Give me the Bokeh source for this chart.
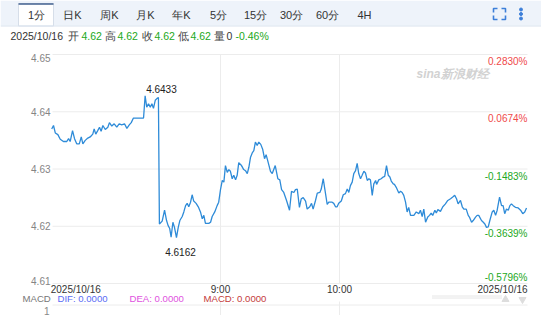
from bokeh.plotting import figure
from bokeh.models import Range1d, ColumnDataSource
from bokeh.core.properties import value
from bokeh.embed import file_html
from bokeh.resources import INLINE

# ---------------- data (minutes after midnight, price) ----------------
t_min = [
    454.9, 455.8, 456.7, 458.0, 459.2, 460.8, 462.5, 463.4, 464.2, 465.4,
    466.4, 467.5, 468.8, 469.8, 470.6, 471.8, 473.1, 474.3, 475.6, 476.3,
    477.1, 478.1, 479.0, 479.8, 480.7, 481.9, 483.2, 484.0, 485.2, 486.4,
    487.7, 488.9, 490.2, 491.6, 492.8, 494.0, 495.0, 496.1, 501.2, 502.0,
    502.8, 503.7, 504.6, 505.4, 506.2, 507.1, 507.9, 508.7, 509.2, 510.6,
    511.8, 512.8, 513.6, 514.4, 515.1, 516.0, 516.8, 517.8, 518.7, 519.5,
    520.7, 521.5, 522.4, 523.2, 524.0, 524.9, 525.7, 526.5, 527.7, 528.8,
    529.9, 530.8, 531.6, 532.4, 534.1, 535.0, 535.8, 537.1, 538.3, 539.1,
    540.0, 540.9, 541.7, 542.5, 543.4, 544.2, 545.0, 545.9, 546.7, 547.6,
    548.4, 549.2, 550.6, 551.7, 552.6, 553.5, 554.3, 555.1, 556.0, 556.8,
    557.6, 558.5, 559.3, 560.3, 561.3, 562.2, 563.0, 564.0, 565.2, 566.1,
    567.6, 568.9, 569.9, 570.8, 571.9, 573.3, 574.8, 575.8, 577.0, 577.8,
    578.7, 579.8, 580.7, 581.7, 582.9, 583.7, 585.0, 585.9, 586.7, 587.9,
    588.8, 590.1, 590.8, 591.8, 592.6, 593.8, 594.6, 596.3, 597.1, 598.0,
    598.8, 599.6, 600.9, 601.9, 603.0, 603.9, 604.7, 605.5, 606.4, 607.2,
    608.1, 608.9, 609.7, 610.6, 611.4, 612.3, 613.1, 614.0, 614.8, 615.6,
    616.5, 617.3, 618.2, 618.7, 619.8, 621.0, 622.0, 622.8, 623.7, 624.6,
    625.4, 626.1, 627.1, 627.7, 628.6, 629.9, 630.8, 631.6, 632.4, 633.3,
    634.1, 634.9, 635.8, 637.5, 638.7, 640.0, 640.8, 641.7, 642.5, 643.4,
    644.5, 645.4, 646.2, 647.0, 648.1, 648.8, 649.6, 650.9, 652.1, 653.4,
    654.6, 656.0, 657.1, 658.1, 659.0, 659.8, 661.0, 661.9, 662.7, 663.9,
    664.9, 665.5, 666.6, 667.4, 668.6, 669.4, 670.2, 671.6, 672.5, 673.3,
    674.1, 675.0, 675.8, 677.0, 677.8, 678.7, 679.5, 680.7, 681.7, 682.5,
    683.3, 684.2, 685.1, 685.9, 686.7, 687.6, 688.7, 690.1, 691.3, 692.4,
    693.4, 694.3,
]
price = [
    4.6370, 4.6376, 4.6363, 4.6360, 4.6352, 4.6348, 4.6348, 4.6353, 4.6348, 4.6367,
    4.6353, 4.6344, 4.6344, 4.6356, 4.6344, 4.6350, 4.6354, 4.6356, 4.6361, 4.6370,
    4.6361, 4.6367, 4.6373, 4.6366, 4.6376, 4.6369, 4.6373, 4.6381, 4.6375, 4.6379,
    4.6373, 4.6379, 4.6377, 4.6379, 4.6371, 4.6377, 4.6381, 4.6389, 4.6389, 4.6428,
    4.6408, 4.6414, 4.6408, 4.6414, 4.6406, 4.6420, 4.6423, 4.6425, 4.6204, 4.6209,
    4.6228, 4.6210, 4.6201, 4.6196, 4.6181, 4.6207, 4.6198, 4.6180, 4.6198, 4.6210,
    4.6217, 4.6225, 4.6236, 4.6240, 4.6234, 4.6242, 4.6255, 4.6244, 4.6240, 4.6234,
    4.6225, 4.6213, 4.6219, 4.6205, 4.6205, 4.6207, 4.6217, 4.6225, 4.6236, 4.6242,
    4.6264, 4.6280, 4.6277, 4.6306, 4.6294, 4.6299, 4.6296, 4.6283, 4.6289, 4.6281,
    4.6289, 4.6311, 4.6306, 4.6299, 4.6297, 4.6292, 4.6303, 4.6320, 4.6328, 4.6332,
    4.6347, 4.6341, 4.6347, 4.6343, 4.6334, 4.6318, 4.6325, 4.6312, 4.6296, 4.6292,
    4.6306, 4.6283, 4.6281, 4.6264, 4.6259, 4.6245, 4.6228, 4.6261, 4.6259, 4.6264,
    4.6265, 4.6233, 4.6248, 4.6250, 4.6244, 4.6230, 4.6234, 4.6240, 4.6230, 4.6245,
    4.6258, 4.6259, 4.6265, 4.6283, 4.6265, 4.6238, 4.6242, 4.6242, 4.6240, 4.6234,
    4.6234, 4.6240, 4.6244, 4.6255, 4.6257, 4.6265, 4.6259, 4.6271, 4.6277, 4.6292,
    4.6297, 4.6310, 4.6292, 4.6283, 4.6289, 4.6296, 4.6293, 4.6280, 4.6283, 4.6281,
    4.6254, 4.6274, 4.6280, 4.6273, 4.6281, 4.6283, 4.6286, 4.6287, 4.6306, 4.6289,
    4.6286, 4.6279, 4.6274, 4.6273, 4.6268, 4.6258, 4.6261, 4.6259, 4.6254, 4.6242,
    4.6225, 4.6233, 4.6219, 4.6219, 4.6225, 4.6222, 4.6228, 4.6217, 4.6230, 4.6207,
    4.6216, 4.6219, 4.6223, 4.6219, 4.6228, 4.6223, 4.6229, 4.6226, 4.6234, 4.6239,
    4.6245, 4.6248, 4.6251, 4.6254, 4.6248, 4.6239, 4.6245, 4.6234, 4.6230, 4.6230,
    4.6219, 4.6216, 4.6207, 4.6210, 4.6216, 4.6219, 4.6219, 4.6210, 4.6207, 4.6204,
    4.6198, 4.6199, 4.6210, 4.6225, 4.6228, 4.6219, 4.6228, 4.6251, 4.6236, 4.6236,
    4.6222, 4.6230, 4.6228, 4.6236, 4.6239, 4.6236, 4.6233, 4.6232, 4.6228, 4.6222,
    4.6225, 4.6232,
]

price_ticks = [4.61, 4.62, 4.63, 4.64, 4.65]
prev_close = 4.6368756
time_ticks = [540, 600]
time_labels = ["9:00", "10:00"]
date_label = "2025/10/16"
hi_value = 4.6433
lo_value = 4.6162

tabs = ["1分", "日K", "周K", "月K", "年K", "5分", "15分", "30分", "60分", "4H"]
quote_names = ["开", "高", "收", "低", "量"]
quote_values = ["4.62", "4.62", "4.62", "4.62", "0"]
quote_change = "-0.46%"
macd_title = "MACD"
macd_labels = ["DIF: 0.0000", "DEA: 0.0000", "MACD: 0.0000"]
macd_axis_label = "1"

# ---------------- layout (pixels) ----------------
W, H = 541, 315
PLOT_L, PLOT_R, PLOT_T, PLOT_B = 52, 527, 54, 283
X_FIRST_TICK, X_SECOND_TICK = 220, 339
px_per_min = (X_SECOND_TICK - X_FIRST_TICK) / (time_ticks[1] - time_ticks[0])
x_start = time_ticks[0] - X_FIRST_TICK / px_per_min
x_end = x_start + W / px_per_min
px_per_price = (PLOT_B - PLOT_T) / (price_ticks[-1] - price_ticks[0])
y_top = price_ticks[-1] + PLOT_T / px_per_price
y_bottom = y_top - H / px_per_price

FONT = "Liberation Sans"
GRID = "#ececec"
LINE = "#2e8bd8"
RED = "#f04a4a"
GREEN = "#22a822"

p = figure(width=W, height=H, x_range=Range1d(x_start, x_end),
           y_range=Range1d(y_bottom, y_top), output_backend="svg",
           toolbar_location=None, min_border=0, x_axis_location=None,
           y_axis_location=None, outline_line_color=None,
           background_fill_color="white", border_fill_color="white")
p.grid.visible = False
p.extra_x_ranges = {"px": Range1d(0, W)}
p.extra_y_ranges = {"py": Range1d(H, 0)}


def txt(xs, ys, texts, colors, size="10px", align="left", baseline="middle",
        xr="px", yr="py", font=FONT, style="normal", x_off=0, y_off=0):
    src = ColumnDataSource(dict(x=xs, y=ys, t=texts, c=colors))
    kw = {}
    if xr != "default":
        kw["x_range_name"] = xr
    if yr != "default":
        kw["y_range_name"] = yr
    p.text(x="x", y="y", text="t", text_color="c", source=src,
           text_font=value(font), text_font_size=value(size),
           text_font_style=style, text_align=align, text_baseline=baseline,
           x_offset=x_off, y_offset=y_off, **kw)


# ---------------- top tab band ----------------
p.quad(left=[0], right=[W], top=[0], bottom=[25], fill_color="#eef3fa",
       line_color=None, x_range_name="px", y_range_name="py")
p.quad(left=[18], right=[53], top=[3], bottom=[25.5], fill_color="white",
       line_color="#d6dee9", line_width=1, x_range_name="px", y_range_name="py")
p.segment(x0=[0], x1=[W], y0=[25.5], y1=[25.5], line_color="#d9e2ee",
          x_range_name="px", y_range_name="py")
p.segment(x0=[18], x1=[53], y0=[3.5], y1=[3.5], line_color="#42618f",
          line_width=1.5, x_range_name="px", y_range_name="py")
tab_x = [36, 72, 109, 145, 181, 218, 255, 291, 327, 364]
txt(tab_x, [14] * len(tabs), tabs, ["#333333"] * len(tabs), size="11px",
    align="center")
# fullscreen icon
ic = "#3d7fd9"
p.multi_line(xs=[[493, 493, 497], [501, 505, 505], [493, 493, 497], [501, 505, 505]],
             ys=[[12, 8, 8], [8, 8, 12], [15, 19, 19], [19, 19, 15]],
             line_color=ic, line_width=1.6, x_range_name="px", y_range_name="py")
p.scatter(x=[520.5, 520.5, 520.5], y=[9, 13.5, 18], size=3, color=ic,
          x_range_name="px", y_range_name="py")

# ---------------- quote line ----------------
q_txt = [date_label]
q_x = [10]
q_col = ["#333333"]
name_x = [67, 104, 141, 177, 213]
val_x = [81, 117, 154, 190, 226]
for i, (n, v) in enumerate(zip(quote_names, quote_values)):
    q_txt += [n, v]
    q_x += [name_x[i], val_x[i]]
    q_col += ["#444444", GREEN if i < 4 else "#333333"]
q_txt.append(quote_change)
q_x.append(235)
q_col.append(GREEN)
txt(q_x, [35] * len(q_txt), q_txt, q_col, size="10.5px")

# ---------------- watermark ----------------
txt([452], [73], ["sina新浪财经"], ["#d2d2d2"], size="12px", align="center",
    style="bold italic")

# ---------------- grid ----------------
p.segment(x0=[PLOT_L] * len(price_ticks), x1=[PLOT_R] * len(price_ticks),
          y0=price_ticks, y1=price_ticks, line_color=GRID, x_range_name="px")
p.segment(x0=time_ticks, x1=time_ticks, y0=[PLOT_T] * 2, y1=[PLOT_B] * 2,
          line_color=GRID, y_range_name="py")
p.segment(x0=time_ticks, x1=time_ticks, y0=[301] * 2, y1=[H] * 2,
          line_color=GRID, y_range_name="py")
p.segment(x0=[PLOT_L], x1=[PLOT_R], y0=[304.5], y1=[304.5], line_color=GRID,
          x_range_name="px", y_range_name="py")

# ---------------- price line ----------------
p.line(t_min, price, line_color=LINE, line_width=1.3)

# high / low markers
i_hi = max(range(len(price)), key=lambda i: price[i])
i_lo = min(range(len(price)), key=lambda i: price[i])
txt([t_min[i_hi]], [hi_value], [f"{hi_value:.4f}"], ["#222222"], size="10px",
    align="left", baseline="bottom", xr="default", yr="default", x_off=1)
txt([t_min[i_lo]], [lo_value], [f"{lo_value:.4f}"], ["#222222"], size="10px",
    align="center", baseline="top", xr="default", yr="default", x_off=4)

# ---------------- left price labels ----------------
LG = "#858585"
txt([50], [price_ticks[-1]], [f"{price_ticks[-1]:.2f}"], [LG], align="right",
    baseline="top", yr="default", y_off=-1)
mid = price_ticks[1:-1]
txt([50] * len(mid), mid, [f"{v:.2f}" for v in mid], [LG] * len(mid),
    align="right", baseline="middle", yr="default")
txt([50], [price_ticks[0]], [f"{price_ticks[0]:.2f}"], [LG], align="right",
    baseline="bottom", yr="default", y_off=1)

# ---------------- right percent labels ----------------
pct = [(v / prev_close - 1) * 100 for v in price_ticks]
pct_txt = [f"{v:.4f}%" for v in pct]
pct_col = [RED if v > 0 else GREEN for v in pct]
txt([PLOT_R] * 4, price_ticks[1:], pct_txt[1:], pct_col[1:], align="right",
    baseline="top", yr="default", y_off=1.5)
txt([PLOT_R], [price_ticks[0]], [pct_txt[0]], [pct_col[0]], align="right",
    baseline="bottom", yr="default", y_off=-1)

# ---------------- time labels ----------------
TC = "#333333"
txt(time_ticks, [289] * 2, time_labels, [TC] * 2, align="center", xr="default")
txt([t_min[0]], [289], [date_label], [TC], align="left", xr="default", x_off=-1)
txt([t_min[-1]], [289], [date_label], [TC], align="right", xr="default", x_off=1)

# ---------------- MACD header ----------------
txt([22, 57, 129, 203], [298] * 4, [macd_title] + macd_labels,
    ["#777777", "#5a6cf5", "#e052e0", "#c43c3c"], size="9.6px")
txt([49], [310], [macd_axis_label], ["#888888"], align="right")
p.segment(x0=[432, 432], x1=[502, 502], y0=[295.5, 297.5], y1=[295.5, 297.5],
          line_color="#cccccc", line_dash="1 1", x_range_name="px",
          y_range_name="py")
p.scatter(x=[505], y=[299], marker="triangle", size=7, color="#dddddd",
          x_range_name="px", y_range_name="py")
p.scatter(x=[522], y=[299], marker="inverted_triangle", size=7, color="#dddddd",
          x_range_name="px", y_range_name="py")

open("out.html", "w").write(file_html(p, INLINE))
